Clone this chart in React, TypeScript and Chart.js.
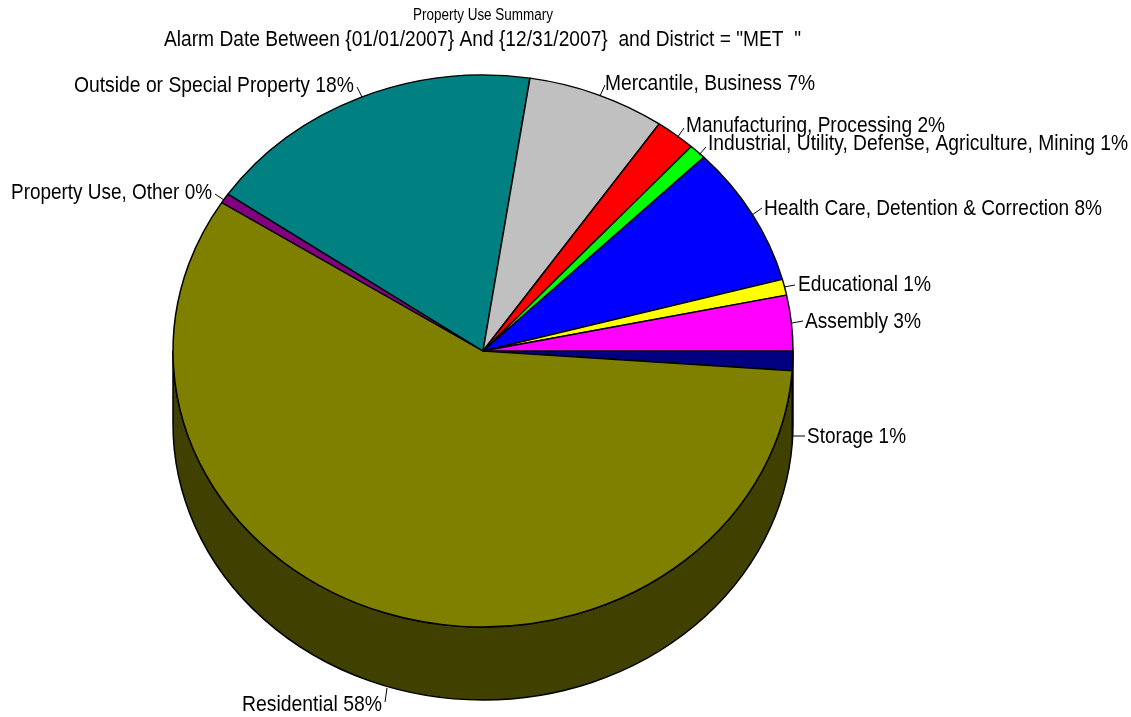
import React, { useEffect, useRef } from "react";
import { Chart, registerables } from "chart.js";

Chart.register(...registerables);

const categories = [
  "Storage",
  "Residential",
  "Property Use, Other",
  "Outside or Special Property",
  "Mercantile, Business",
  "Manufacturing, Processing",
  "Industrial, Utility, Defense, Agriculture, Mining",
  "Health Care, Detention & Correction",
  "Educational",
  "Assembly",
];
const shares = [1.14, 57.9, 0.58, 17.8, 7.2, 2.1, 0.9, 8.2, 0.93, 3.25];
const shareLabels = [1, 58, 0, 18, 7, 2, 1, 8, 1, 3];
const sliceColors = ["#000080", "#808000", "#800080", "#008080", "#c0c0c0", "#ff0000", "#00ff00", "#0000ff", "#ffff00", "#ff00ff"];
const sideColors = ["#000040", "#404000", "#400040", "#004040", "#606060", "#800000", "#008000", "#000080", "#808000", "#800080"];

const titleSmall = "Property Use Summary";
const titleMain = 'Alarm Date Between {01/01/2007} And {12/31/2007}  and District = "MET  "';

// Label placement: left, right, centre y, leader from, leader to
const labelLayout: number[][] = [
  [807, 906, 437, 805, 436, 793, 436],
  [242, 382, 705, 385, 702, 387, 688],
  [11, 212, 193, 215, 194, 224, 200],
  [74, 354, 86, 357, 87, 362, 97],
  [605, 815, 84, 605, 85, 600, 96],
  [686, 945, 126, 684, 128, 677, 138],
  [708, 1128, 144, 706, 147, 699, 155],
  [764, 1102, 209, 762, 208, 752, 215],
  [798, 931, 285, 795, 285, 784, 287],
  [805, 921, 322, 803, 321, 792, 323],
];

const PIE_RADIUS = 310;
const Y_SQUASH = 276 / 310;
const DEPTH = 73;
const FONT = '"Liberation Sans", Arial, sans-serif';

const pie3d = {
  id: "pie3d",
  beforeDatasetsDraw(chart: any) {
    const { ctx } = chart;
    const arcs = chart.getDatasetMeta(0).data;
    const cx = arcs[0].x;
    const cy = arcs[0].y;
    const rx = arcs[0].outerRadius;
    const ry = rx * Y_SQUASH;
    ctx.save();
    arcs.forEach((arc: any, i: number) => {
      const a = Math.max(arc.startAngle, 0);
      const b = Math.min(arc.endAngle, Math.PI);
      if (b <= a) return;
      ctx.beginPath();
      ctx.ellipse(cx, cy, rx, ry, 0, a, b);
      ctx.ellipse(cx, cy + DEPTH, rx, ry, 0, b, a, true);
      ctx.closePath();
      ctx.fillStyle = sideColors[i];
      ctx.strokeStyle = "#000";
      ctx.lineWidth = 1.5;
      ctx.fill();
      ctx.stroke();
    });
    ctx.restore();
    ctx.save();
    ctx.translate(cx, cy);
    ctx.scale(1, Y_SQUASH);
    ctx.translate(-cx, -cy);
  },
  afterDatasetsDraw(chart: any) {
    const { ctx } = chart;
    ctx.restore();
    ctx.save();
    ctx.fillStyle = "#000";
    ctx.strokeStyle = "#000";
    ctx.lineWidth = 1;
    ctx.textBaseline = "middle";
    ctx.textAlign = "left";
    ctx.font = `16px ${FONT}`;
    ctx.fillText(titleSmall, 413, 16, 140);
    ctx.font = `22px ${FONT}`;
    ctx.fillText(titleMain, 164, 40, 637);
    categories.forEach((name, i) => {
      const [left, right, y, x1, y1, x2, y2] = labelLayout[i];
      ctx.fillText(`${name} ${shareLabels[i]}%`, left, y, right - left);
      ctx.beginPath();
      ctx.moveTo(x1, y1);
      ctx.lineTo(x2, y2);
      ctx.stroke();
    });
    ctx.restore();
  },
};

export default function App() {
  const ref = useRef<HTMLCanvasElement>(null);
  useEffect(() => {
    document.body.style.margin = "0";
    const chart = new Chart(ref.current!, {
      type: "pie",
      data: {
        labels: categories,
        datasets: [
          {
            data: shares,
            backgroundColor: sliceColors,
            borderColor: "#000",
            borderWidth: 1.5,
          },
        ],
      },
      options: {
        responsive: false,
        animation: false,
        rotation: 90,
        radius: PIE_RADIUS,
        layout: { padding: { left: 0, right: 165, top: 0, bottom: 15 } },
        plugins: { legend: { display: false }, tooltip: { enabled: false } },
      },
      plugins: [pie3d],
    } as any);
    return () => chart.destroy();
  }, []);
  return <canvas ref={ref} width={1131} height={717} style={{ display: "block" }} />;
}
